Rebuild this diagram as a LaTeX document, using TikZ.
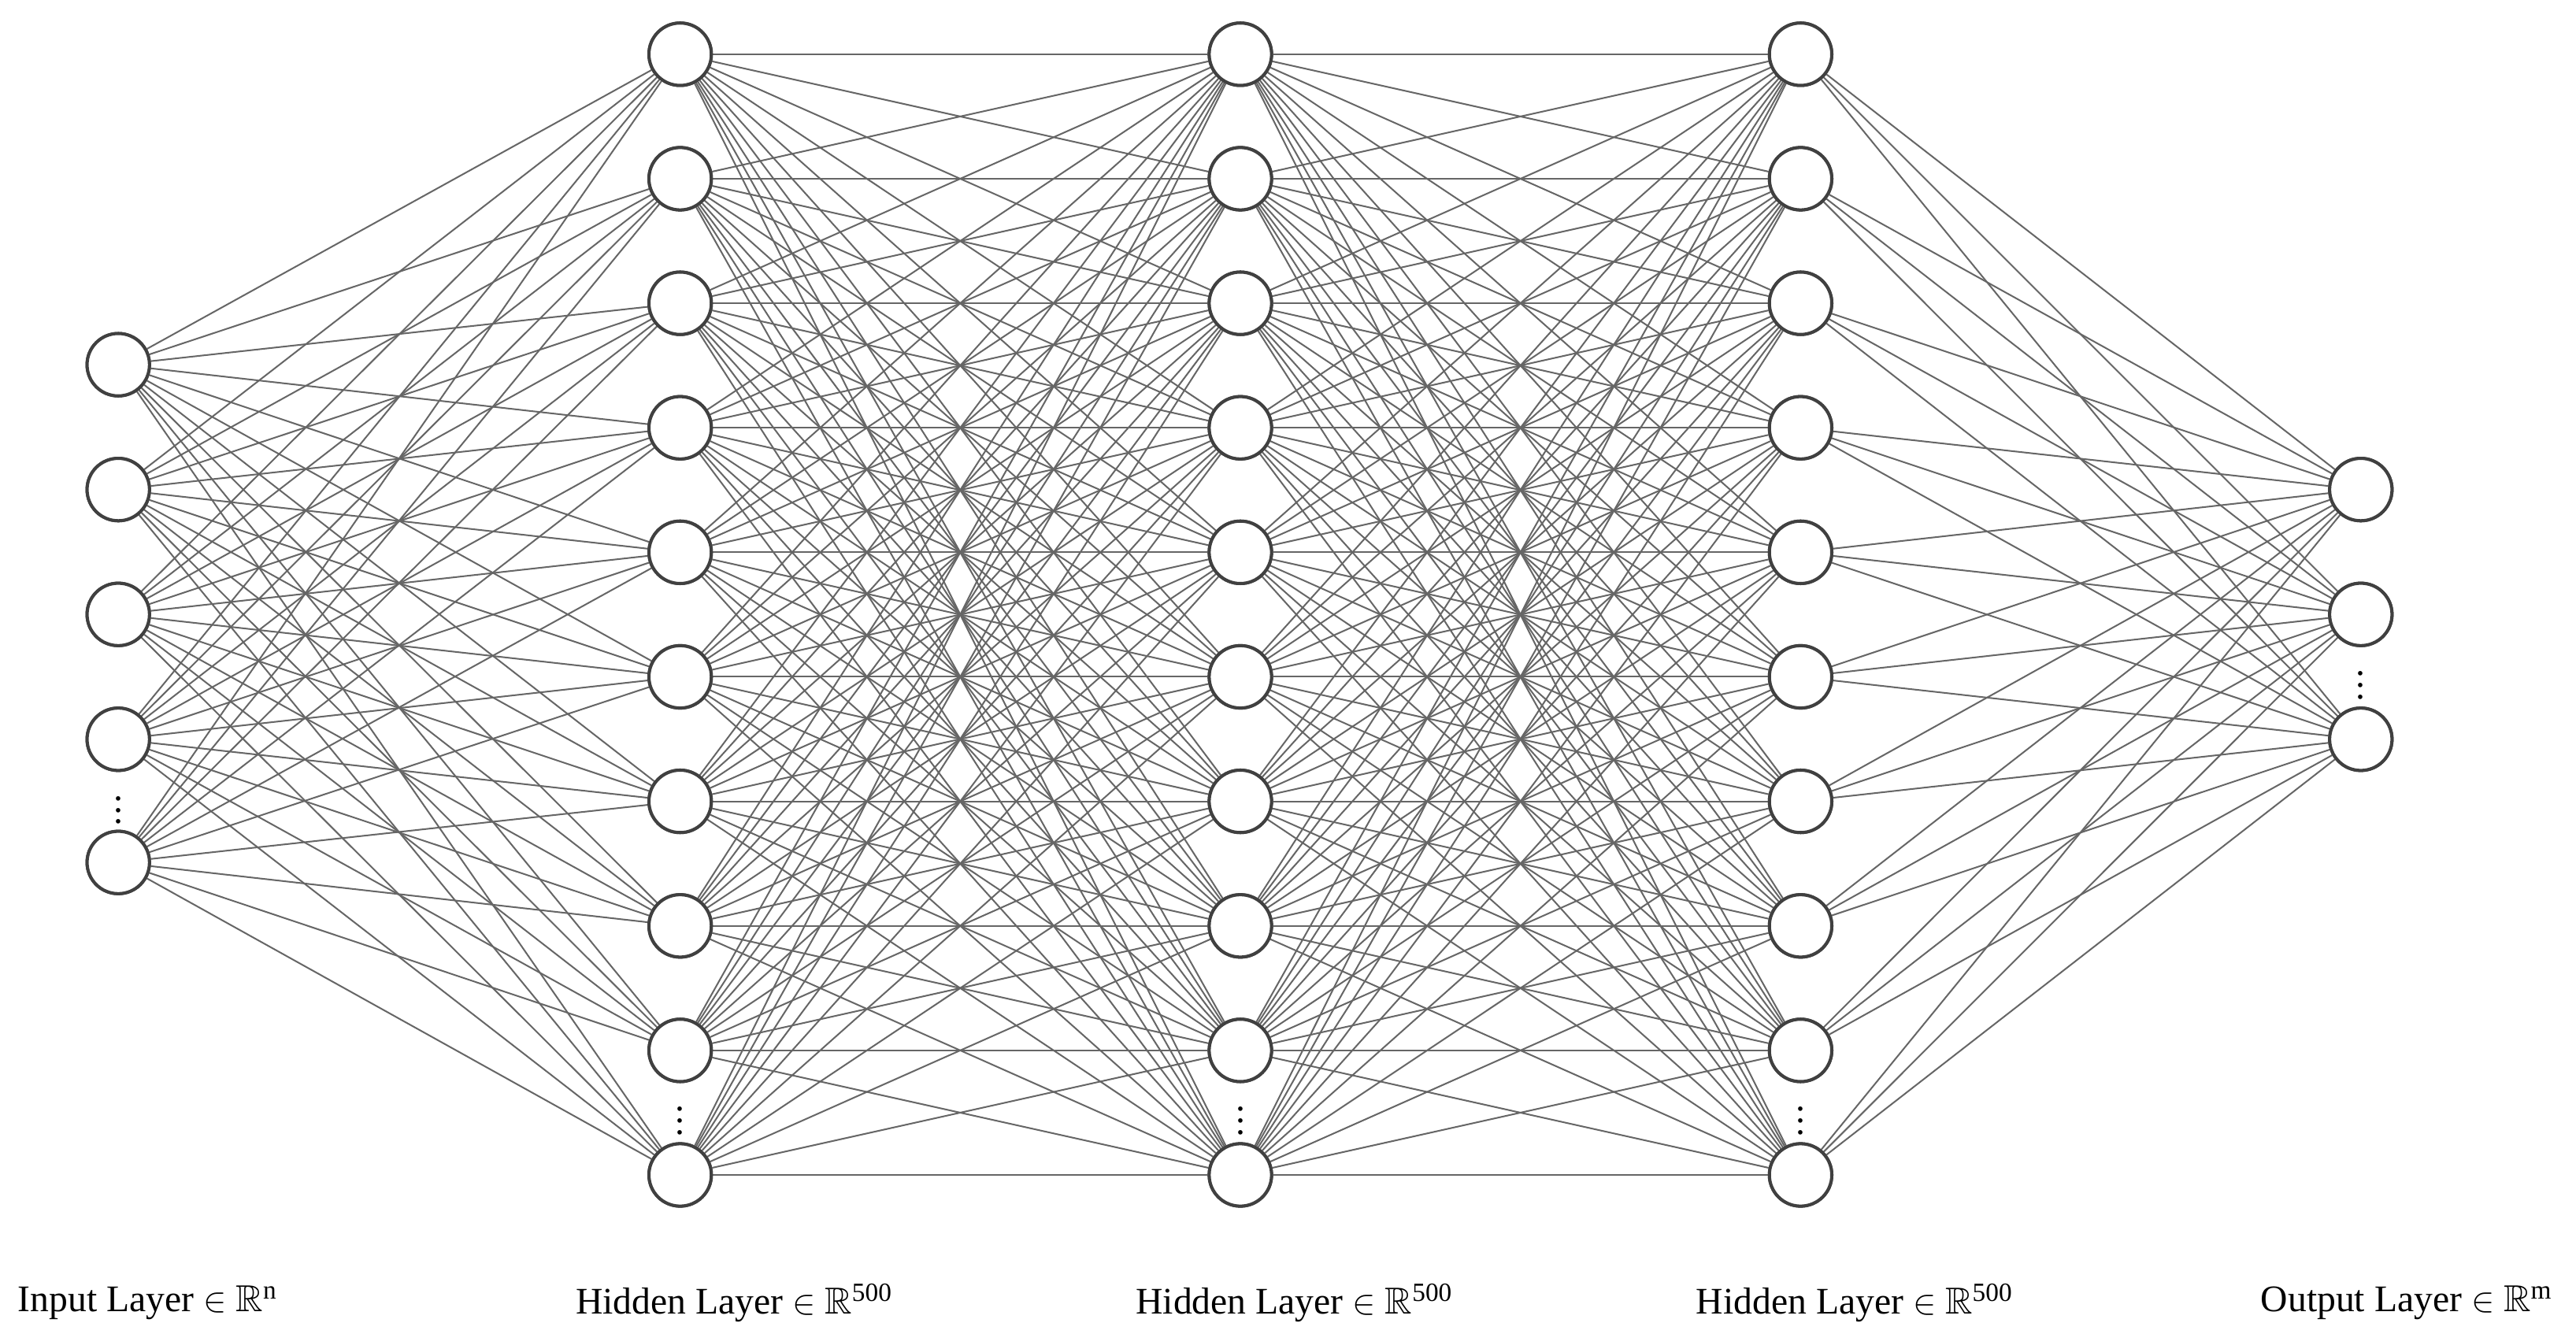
\documentclass[tikz,border=0pt]{standalone}
\usepackage{amssymb}
\usepackage{fontspec}
\setmainfont{Liberation Serif}
\begin{document}
\begin{tikzpicture}[x=0.02cm,y=-0.02cm,
  neuron/.style={circle,draw=black!75,fill=white,line width=1.1pt,minimum size=0.76cm,inner sep=0pt},
  conn/.style={draw=black!60,line width=0.55pt},
  lbl/.style={font=\fontsize{13}{15}\selectfont},
  dotsn/.style={font=\fontsize{13}{15}\selectfont,inner sep=0pt}]
\useasboundingbox (0,0) rectangle (1568,812);
% input
\foreach \i/\y in {1/222,2/298,3/374,4/450,5/525} \node[neuron] (I\i) at (72,\y) {};
\foreach \l/\x in {A/414,B/755,C/1096}
  \foreach \i in {1,...,10} \node[neuron] (\l\i) at (\x,{33+(\i-1)*75.8}) {};
\foreach \i/\y in {1/298,2/374,3/450} \node[neuron] (O\i) at (1437,\y) {};
\begin{scope}[on background layer/.style={}]
\foreach \i in {1,...,5} \foreach \j in {1,...,10} \path[conn] (I\i) -- (A\j);
\foreach \i in {1,...,10} \foreach \j in {1,...,10} {\path[conn] (A\i) -- (B\j); \path[conn] (B\i) -- (C\j);}
\foreach \i in {1,...,10} \foreach \j in {1,...,3} \path[conn] (C\i) -- (O\j);
\end{scope}
% redraw nodes on top
\foreach \i/\y in {1/222,2/298,3/374,4/450,5/525} \node[neuron] at (72,\y) {};
\foreach \l/\x in {A/414,B/755,C/1096}
  \foreach \i in {1,...,10} \node[neuron] at (\x,{33+(\i-1)*75.8}) {};
\foreach \i/\y in {1/298,2/374,3/450} \node[neuron] at (1437,\y) {};
% dots
\node[dotsn] (d0) at (72,488) {$\vdots$};
\node[dotsn] (d1) at (414,677) {$\vdots$};
\node[dotsn] (d2) at (755,677) {$\vdots$};
\node[dotsn] (d3) at (1096,677) {$\vdots$};
\node[dotsn] (d4) at (1437,412) {$\vdots$};
% labels
\node[lbl] (L0) at (90,793) {Input Layer \(\in\) \(\mathbb{R}\)\textsuperscript{n}};
\node[lbl] (L1) at (447,793) {Hidden Layer \(\in\) \(\mathbb{R}\)\textsuperscript{500}};
\node[lbl] (L2) at (788,793) {Hidden Layer \(\in\) \(\mathbb{R}\)\textsuperscript{500}};
\node[lbl] (L3) at (1129,793) {Hidden Layer \(\in\) \(\mathbb{R}\)\textsuperscript{500}};
\node[lbl] (L4) at (1465,793) {Output Layer \(\in\) \(\mathbb{R}\)\textsuperscript{m}};
\end{tikzpicture}
\end{document}
